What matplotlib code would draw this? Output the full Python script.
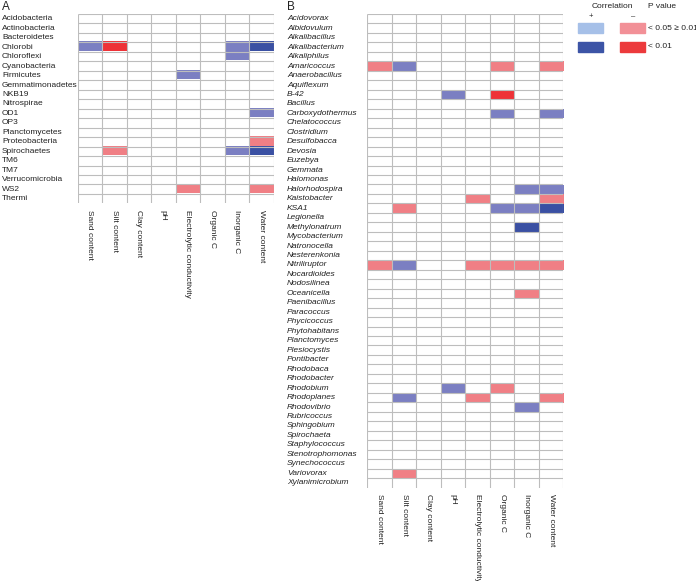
import numpy as np
import matplotlib
matplotlib.use("Agg")
import matplotlib.pyplot as plt
from matplotlib.colors import ListedColormap, BoundaryNorm
from matplotlib.patches import Rectangle

plt.rcParams['font.family'] = ['Liberation Sans', 'DejaVu Sans']

factors = ["Sand content", "Silt content", "Clay content", "pH",
           "Electrolytic conductivity", "Organic C", "Inorganic C", "Water content"]

phyla = ["Acidobacteria", "Actinobacteria", "Bacteroidetes", "Chlorobi", "Chloroflexi",
         "Cyanobacteria", "Firmicutes", "Gemmatimonadetes", "NKB19", "Nitrospirae",
         "OD1", "OP3", "Planctomycetes", "Proteobacteria", "Spirochaetes", "TM6", "TM7",
         "Verrucomicrobia", "WS2", "Thermi"]

genera = ["Acidovorax", "Albidovulum", "Alkalibacillus", "Alkalibacterium", "Alkaliphilus",
          "Amaricoccus", "Anaerobacillus", "Aquiflexum", "B-42", "Bacillus",
          "Carboxydothermus", "Chelatococcus", "Clostridium", "Desulfobacca", "Devosia",
          "Euzebya", "Gemmata", "Halomonas", "Halorhodospira", "Kaistobacter", "KSA1",
          "Legionella", "Methylonatrum", "Mycobacterium", "Natronocella", "Nesterenkonia",
          "Nitriliruptor", "Nocardioides", "Nodosilinea", "Oceanicella", "Paenibacillus",
          "Paracoccus", "Phycicoccus", "Phytohabitans", "Planctomyces", "Plesiocystis",
          "Pontibacter", "Rhodobaca", "Rhodobacter", "Rhodobium", "Rhodoplanes",
          "Rhodovibrio", "Rubricoccus", "Sphingobium", "Spirochaeta", "Staphylococcus",
          "Stenotrophomonas", "Synechococcus", "Variovorax", "Xylanimicrobium"]

# significant correlations: +1/-1 = p<0.05, +2/-2 = p<0.01
# order of values follows factors
phyla_sig = {
    "Chlorobi":     [1, -2, 0, 0, 0, 0, 1, 2],
    "Chloroflexi":  [0, 0, 0, 0, 0, 0, 1, 0],
    "Firmicutes":   [0, 0, 0, 0, 1, 0, 0, 0],
    "OD1":          [0, 0, 0, 0, 0, 0, 0, 1],
    "Proteobacteria": [0, 0, 0, 0, 0, 0, 0, -1],
    "Spirochaetes": [0, -1, 0, 0, 0, 0, 1, 2],
    "WS2":          [0, 0, 0, 0, -1, 0, 0, -1],
}

genera_sig = {
    "Amaricoccus":      [-1, 1, 0, 0, 0, -1, 0, -1],
    "B-42":             [0, 0, 0, 1, 0, -2, 0, 0],
    "Carboxydothermus": [0, 0, 0, 0, 0, 1, 0, 1],
    "Halorhodospira":   [0, 0, 0, 0, 0, 0, 1, 1],
    "Kaistobacter":     [0, 0, 0, 0, -1, 0, 0, -1],
    "KSA1":             [0, -1, 0, 0, 0, 1, 1, 2],
    "Methylonatrum":    [0, 0, 0, 0, 0, 0, 2, 0],
    "Nitriliruptor":    [-1, 1, 0, 0, -1, -1, -1, -1],
    "Oceanicella":      [0, 0, 0, 0, 0, 0, -1, 0],
    "Rhodobium":        [0, 0, 0, 1, 0, -1, 0, 0],
    "Rhodoplanes":      [0, 1, 0, 0, -1, 0, 0, -1],
    "Rhodovibrio":      [0, 0, 0, 0, 0, 0, 1, 0],
    "Variovorax":       [0, -1, 0, 0, 0, 0, 0, 0],
}

cell_colors = ["#ee3237", "#f07f85", "#ffffff", "#7b7fc2", "#3a50a3"]
cmap = ListedColormap(cell_colors)
norm = BoundaryNorm([-2.5, -1.5, -0.5, 0.5, 1.5, 2.5], cmap.N)

W, H = 696, 581
fig = plt.figure(figsize=(W / 100, H / 100), dpi=100)
txt_col = "#222222"
grid_col = "#bdbdbd"
row_h = 9.47
fs = 6.0


def build(names, sig):
    m = np.zeros((len(names), len(factors)))
    for i, n in enumerate(names):
        if n in sig:
            m[i] = sig[n]
    return m


def panel(left_px, top_px, label_px, names, sig, italic):
    n = len(names)
    h = n * row_h
    ax = fig.add_axes([left_px / W, 1 - (top_px + h) / H, 196 / W, h / H])
    ax.imshow(build(names, sig), cmap=cmap, norm=norm, aspect="auto",
              interpolation="nearest")
    ax.set_xlim(-0.5, len(factors) - 0.5)
    ax.set_ylim(n - 0.5, -0.5)
    for s in ax.spines.values():
        s.set_visible(False)
    ax.hlines(np.arange(n) - 0.5, -0.5, len(factors) - 0.5, color=grid_col, lw=0.8)
    ax.vlines(np.arange(len(factors) + 1) - 0.5, -0.5, n - 0.5, color=grid_col, lw=0.8)
    ax.set_yticks(range(n))
    ax.set_yticklabels(names, ha="left", va="center", fontsize=fs, color=txt_col,
                       style="italic" if italic else "normal")
    ax.tick_params(axis="y", length=0, pad=(left_px - label_px) * 0.72)
    ax.set_xticks(range(len(factors)))
    ax.set_xticklabels(factors, rotation=-90, ha="center", va="top",
                       fontsize=fs, color=txt_col)
    ax.tick_params(axis="x", length=0, pad=4.5)
    return ax


axA = panel(77.5, 14, 2, phyla, phyla_sig, False)
axB = panel(367.3, 14, 287, genera, genera_sig, True)

fig.text(2 / W, 1 - 6.5 / H, "A", fontsize=8.5, color=txt_col, va="center")
fig.text(287 / W, 1 - 6.5 / H, "B", fontsize=8.5, color=txt_col, va="center")

# legend
leg_cols = [["#a6c0e8", "#f29097"], ["#3c54a6", "#ec3a3c"]]
for r, ytop in enumerate([22.7, 41.7]):
    for c, xl in enumerate([578, 620.3]):
        fig.patches.append(Rectangle((xl / W, 1 - (ytop + 10) / H), 25 / W, 10 / H,
                                     transform=fig.transFigure, color=leg_cols[r][c]))
fig.text(612.7 / W, 1 - 6 / H, "Correlation", fontsize=fs, color=txt_col,
         ha="center", va="center")
fig.text(662 / W, 1 - 6 / H, "P value", fontsize=fs, color=txt_col,
         ha="center", va="center")
fig.text(590.5 / W, 1 - 16.5 / H, "+", fontsize=5.5, color=txt_col, ha="center", va="center")
fig.text(633.5 / W, 1 - 16.5 / H, "\u2013", fontsize=5.5, color=txt_col, ha="center", va="center")
fig.text(647.5 / W, 1 - 28 / H, "< 0.05 \u2265 0.01", fontsize=fs, color=txt_col,
         ha="left", va="center")
fig.text(647.5 / W, 1 - 47 / H, "< 0.01", fontsize=fs, color=txt_col,
         ha="left", va="center")

fig.savefig("out.png", dpi=100)
